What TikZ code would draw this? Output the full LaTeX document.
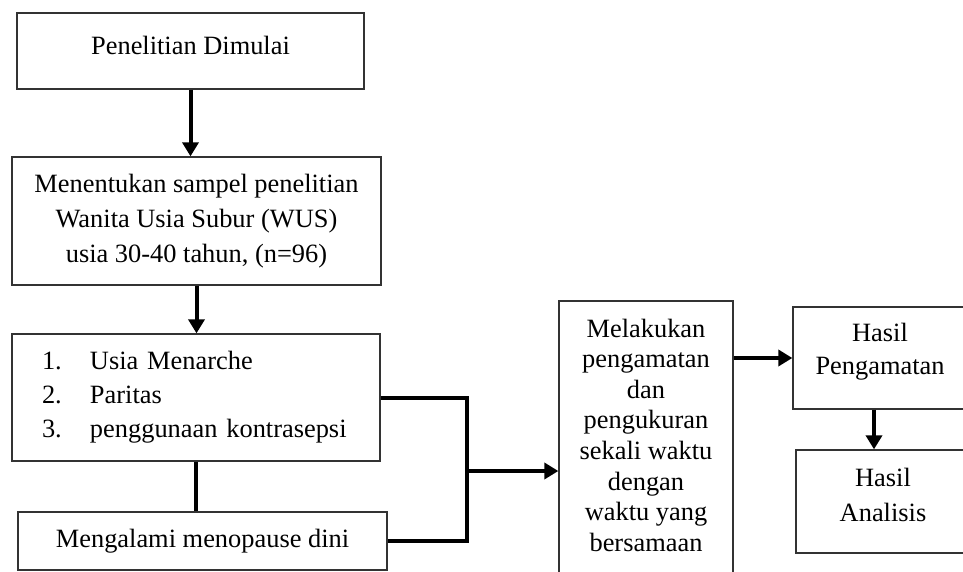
\documentclass[tikz,border=0pt]{standalone}
\usepackage{fontspec}
\setmainfont{Liberation Serif}
\usetikzlibrary{arrows.meta}

\begin{document}
\begin{tikzpicture}[
    x=1pt, y=-1pt,
    font=\fontsize{26.4}{35}\selectfont,
    box/.style={draw=black!80, line width=1.3pt, align=center, inner sep=0pt},
    link/.style={line width=4pt},
    arr/.style={link, -{Triangle[length=14pt, width=16pt]}},
]
\useasboundingbox (0, 0) rectangle (963, 572);
\clip (0, 0) rectangle (963, 572);

\draw (190.5, 51) node[box, minimum width=347pt, minimum height=76pt, text depth=12pt] (start) {Penelitian Dimulai};
\draw (196.5, 221) node[box, minimum width=369pt, minimum height=128pt] (sample) {Menentukan sampel penelitian\\Wanita Usia Subur (WUS)\\usia 30-40 tahun, (n=96)};
\draw (196, 397.5) node[box, minimum width=368pt, minimum height=127pt, align=left, text width=308pt, font=\fontsize{26.4}{34}\selectfont] (factors) {\makebox[48pt][l]{1.}Usia Menarche\\\makebox[48pt][l]{2.}Paritas\\\makebox[48pt][l]{3.}penggunaan kontrasepsi};
\draw (202.5, 541) node[box, minimum width=369pt, minimum height=58pt] (meno) {Mengalami menopause dini};

\draw (646, 450.5) node[box, minimum width=174pt, minimum height=299pt, text depth=31pt, font=\fontsize{26.4}{30.6}\selectfont] (obs) {Melakukan\\pengamatan\\dan\\pengukuran\\sekali waktu\\dengan\\waktu yang\\bersamaan};
\draw (880, 358) node[box, minimum width=174pt, minimum height=102pt, text depth=19pt, font=\fontsize{26.4}{33}\selectfont] (hasilA) {Hasil\\Pengamatan};
\draw (883, 501.5) node[box, minimum width=174pt, minimum height=103pt, text depth=14pt] (hasilB) {Hasil\\Analisis};

\draw[arr] (start.south) -- (start.south |- sample.north);
\draw[arr] (sample.south) -- (sample.south |- factors.north);
\draw[link] (factors.south) -- (factors.south |- meno.north);

\draw[link] (factors.east) -- ++(86, 0) coordinate (joint) -- (joint |- meno.east) -- (meno.east);
\coordinate (jmid) at (466, 471);
\draw[arr] (jmid) -- (jmid -| obs.west);

\draw[arr] (obs.east |- hasilA.west) -- (hasilA.west);
\draw[arr] ([xshift=-6pt]hasilA.south) -- ([xshift=-6pt]hasilA.south |- hasilB.north);
\end{tikzpicture}
\end{document}
